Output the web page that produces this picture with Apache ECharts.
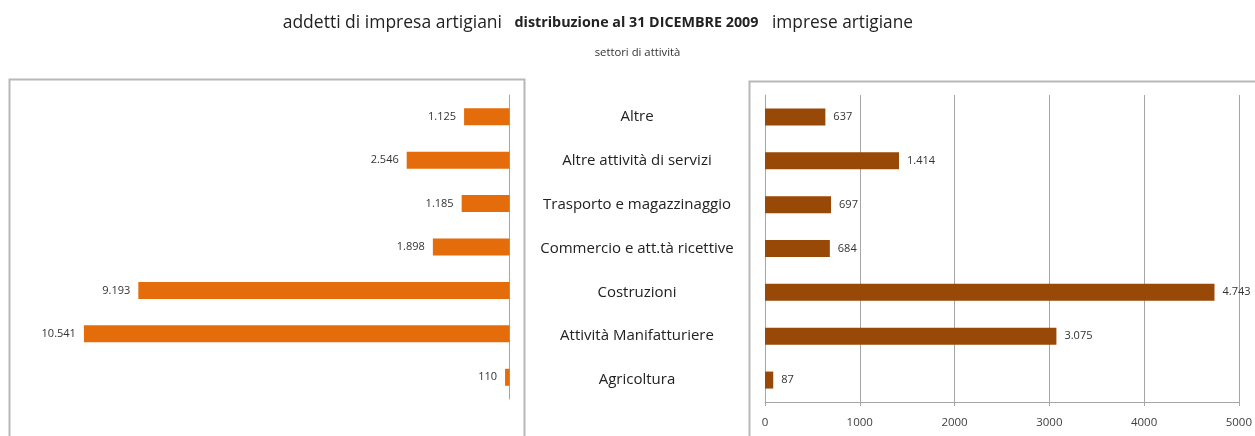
<!DOCTYPE html>
<html>
<head>
<meta charset="utf-8">
<script src="https://cdn.jsdelivr.net/npm/echarts@6/dist/echarts.min.js"></script>
<style>
html,body{margin:0;padding:0;background:#fff;}
#chart{width:1255px;height:436px;}
</style>
</head>
<body>
<div id="chart"></div>
<script>
// Categories (top to bottom)
const categories = [
  'Altre',
  'Altre attività di servizi',
  'Trasporto e magazzinaggio',
  'Commercio e att.tà ricettive',
  'Costruzioni',
  'Attività Manifatturiere',
  'Agricoltura'
];
// addetti di impresa artigiani
const addetti = [1125, 2546, 1185, 1898, 9193, 10541, 110];
// imprese artigiane
const imprese = [637, 1414, 697, 684, 4743, 3075, 87];
// right axis ticks
const impreseTicks = [0, 1000, 2000, 3000, 4000, 5000];

const titleLeft = 'addetti di impresa artigiani';
const titleMid = 'distribuzione al 31 DICEMBRE 2009';
const titleRight = 'imprese artigiane';
const subTitle = 'settori di attività';

const FONT = '"Open Sans", "Noto Sans", sans-serif';

function fmtIt(v) {
  return String(v).replace(/\B(?=(\d{3})+(?!\d))/g, '.');
}

const chart = echarts.init(document.getElementById('chart'), null, {renderer: 'canvas'});
const gridColor = '#a6a6a6';

const option = {
  animation: false,
  backgroundColor: '#ffffff',
  textStyle: {fontFamily: FONT},
  graphic: [
    {type: 'rect', shape: {x: 9.5, y: 79.5, width: 515, height: 400}, style: {fill: 'none', stroke: '#b8b8b8', lineWidth: 2}, z: 0},
    {type: 'rect', shape: {x: 749.5, y: 81.5, width: 560, height: 400}, style: {fill: 'none', stroke: '#b8b8b8', lineWidth: 2}, z: 0},
    {type: 'text', style: {x: 502, y: 23, text: titleLeft, textAlign: 'right', textVerticalAlign: 'middle', fontFamily: FONT, fontSize: 17.5, fill: '#222'}},
    {type: 'text', style: {x: 636.5, y: 23, text: titleMid, textAlign: 'center', textVerticalAlign: 'middle', fontFamily: FONT, fontSize: 14.3, fontWeight: 'bold', fill: '#222'}},
    {type: 'text', style: {x: 772, y: 23, text: titleRight, textAlign: 'left', textVerticalAlign: 'middle', fontFamily: FONT, fontSize: 17.3, fill: '#222'}},
    {type: 'text', style: {x: 637.5, y: 53, text: subTitle, textAlign: 'center', textVerticalAlign: 'middle', fontFamily: FONT, fontSize: 11.3, fill: '#333'}}
  ],
  grid: [
    {left: 25, right: 1255 - 509.5, top: 95, bottom: 436 - 399, containLabel: false},
    {left: 765, right: 1255 - 1239, top: 95, bottom: 436 - 402, containLabel: false}
  ],
  xAxis: [
    {
      gridIndex: 0, type: 'value', min: 0, max: 12000, inverse: true,
      axisLabel: {show: false}, axisLine: {show: false}, axisTick: {show: false}, splitLine: {show: false}
    },
    {
      gridIndex: 1, type: 'value', min: impreseTicks[0], max: impreseTicks[impreseTicks.length - 1], interval: 1000,
      axisLabel: {show: true, fontSize: 11.5, color: '#404040', margin: 15, fontFamily: FONT, formatter: v => String(v)},
      axisLine: {show: true, lineStyle: {color: gridColor, width: 1}},
      axisTick: {show: true, length: 4, lineStyle: {color: gridColor}},
      splitLine: {show: true, lineStyle: {color: gridColor, width: 1}}
    }
  ],
  yAxis: [
    {
      gridIndex: 0, type: 'category', data: categories, inverse: true, position: 'right',
      axisLine: {show: true, lineStyle: {color: gridColor, width: 1}},
      axisTick: {show: false}, axisLabel: {show: false}, splitLine: {show: false}
    },
    {
      gridIndex: 1, type: 'category', data: categories, inverse: true, position: 'left',
      axisLine: {show: true, lineStyle: {color: gridColor, width: 1}},
      axisTick: {show: false},
      axisLabel: {show: true, align: 'center', margin: 128, fontSize: 15, color: '#222', fontFamily: FONT},
      splitLine: {show: false}
    }
  ],
  series: [
    {
      name: titleLeft, type: 'bar', xAxisIndex: 0, yAxisIndex: 0, data: addetti, barWidth: 17,
      itemStyle: {color: '#E46C0A'},
      label: {show: true, position: 'left', distance: 8, fontSize: 11, color: '#333', fontFamily: FONT,
        formatter: p => fmtIt(p.value)}
    },
    {
      name: titleRight, type: 'bar', xAxisIndex: 1, yAxisIndex: 1, data: imprese, barWidth: 17,
      itemStyle: {color: '#984807'},
      label: {show: true, position: 'right', distance: 8, fontSize: 11, color: '#333', fontFamily: FONT,
        formatter: p => fmtIt(p.value)}
    }
  ]
};
chart.setOption(option);
</script>
</body>
</html>
